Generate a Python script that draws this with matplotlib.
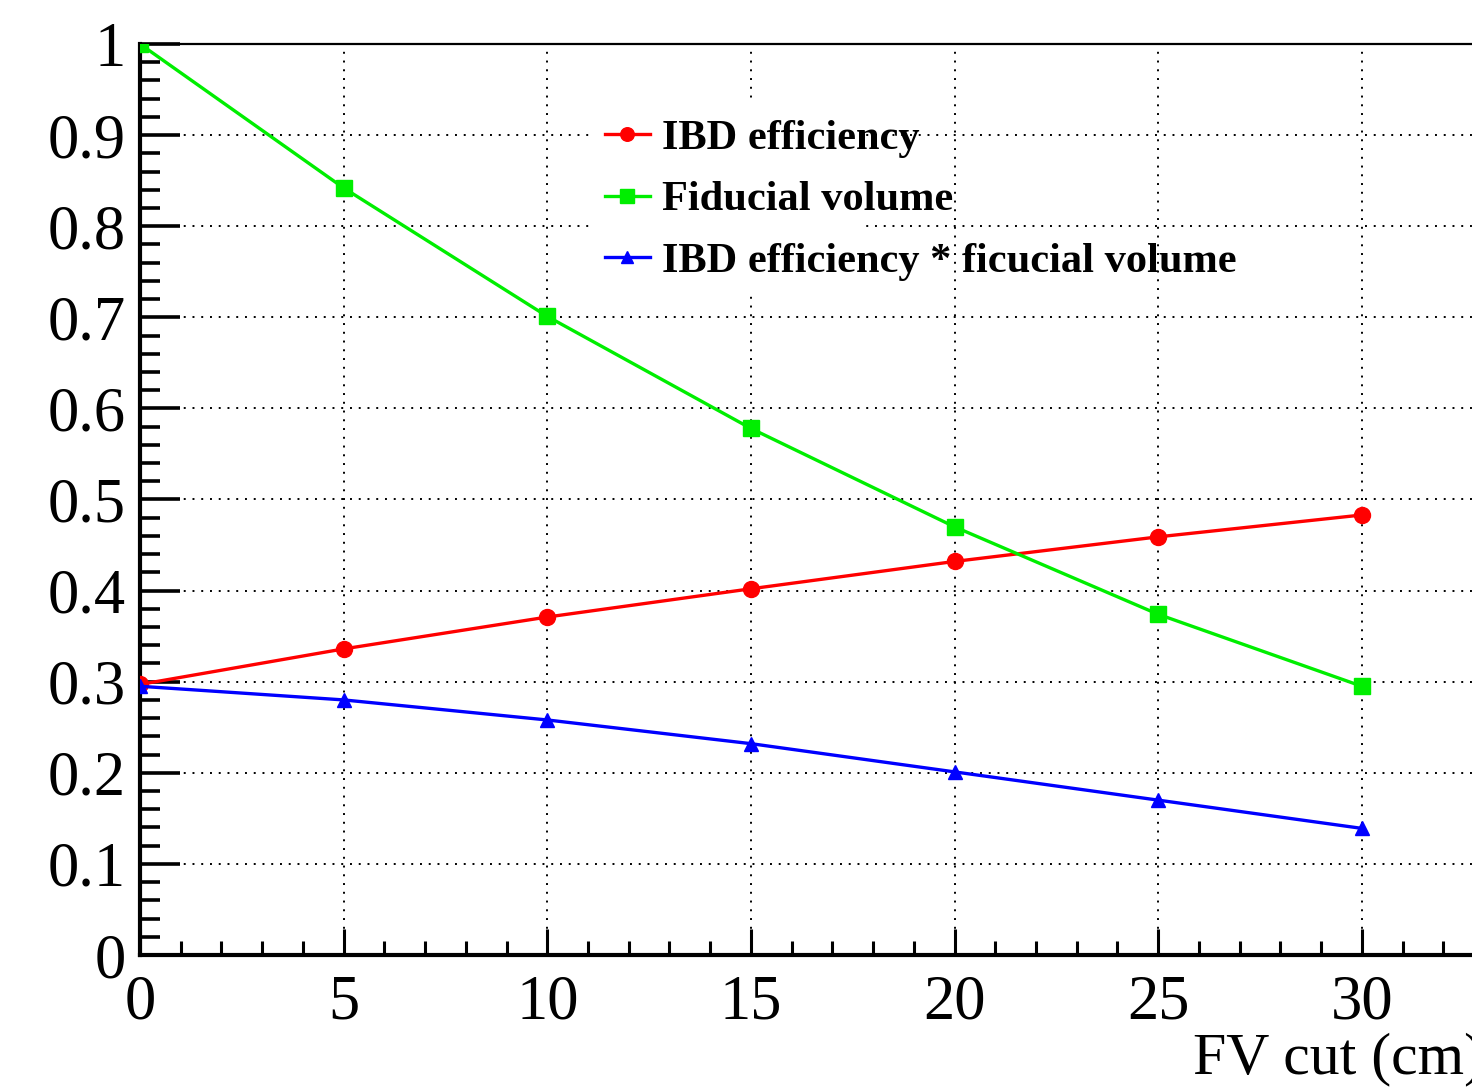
import numpy as np
import matplotlib
matplotlib.use('Agg')
import matplotlib.pyplot as plt
from matplotlib.patches import Rectangle
from matplotlib.ticker import MultipleLocator, FuncFormatter

plt.rcParams['font.family'] = ['Liberation Serif', 'DejaVu Serif']

# data
fv_cut = [0, 5, 10, 15, 20, 25, 30]
ibd_eff = [0.297, 0.336, 0.371, 0.402, 0.432, 0.459, 0.483]
fid_vol = [1.000, 0.842, 0.701, 0.578, 0.470, 0.374, 0.295]
eff_x_vol = [0.295, 0.280, 0.258, 0.232, 0.201, 0.170, 0.139]

fig = plt.figure(figsize=(14.72, 10.89), dpi=100)
ax = fig.add_axes([140 / 1472, 134 / 1089, 1344 / 1472, 911 / 1089])

ax.plot(fv_cut, ibd_eff, color='#ff0000', lw=2.4, marker='o', ms=11.5,
        label='IBD efficiency', zorder=3)
ax.plot(fv_cut, fid_vol, color='#00ee00', lw=2.4, marker='s', ms=12,
        label='Fiducial volume', zorder=3)
ax.plot(fv_cut, eff_x_vol, color='#0000ff', lw=2.4, marker='^', ms=10,
        label='IBD efficiency * ficucial volume', zorder=3)

ax.set_xlim(0, 33)
ax.set_ylim(0, 1)

ax.xaxis.set_major_locator(MultipleLocator(5))
ax.xaxis.set_minor_locator(MultipleLocator(1))
ax.yaxis.set_major_locator(MultipleLocator(0.1))
ax.yaxis.set_minor_locator(MultipleLocator(0.02))
ax.yaxis.set_major_formatter(FuncFormatter(lambda v, p: '%g' % round(v, 2)))

ax.tick_params(axis='x', which='major', direction='in', length=19, width=2.2,
               labelsize=45, pad=14, top=False)
ax.tick_params(axis='x', which='minor', direction='in', length=10, width=2.2,
               top=False)
ax.tick_params(axis='y', which='major', direction='in', length=29, width=2.6,
               labelsize=45, pad=10, right=False)
ax.tick_params(axis='y', which='minor', direction='in', length=14.5, width=2.6,
               right=False)

ax.spines['left'].set_linewidth(3)
ax.spines['bottom'].set_linewidth(3)
ax.spines['top'].set_linewidth(1.6)
ax.spines['right'].set_linewidth(1.6)

ax.set_axisbelow(True)
ax.grid(True, which='major', color='black', linestyle=(0, (1, 3.5)), lw=1.4)

# white box behind the legend hides part of the grid
ax.add_patch(Rectangle((11.1, 0.73), 6.6, 0.205, fc='white', ec='none', zorder=1))

leg = ax.legend(loc='upper left', bbox_to_anchor=(0.346, 0.9175), frameon=False,
                prop={'weight': 'bold', 'size': 30.5}, handlelength=1.05,
                handletextpad=0.3, labelspacing=0.54, borderpad=0,
                borderaxespad=0, markerscale=0.85)

ax.set_xlabel('FV cut (cm)', fontsize=43, loc='right', labelpad=0)

fig.savefig('out.png', dpi=100)
